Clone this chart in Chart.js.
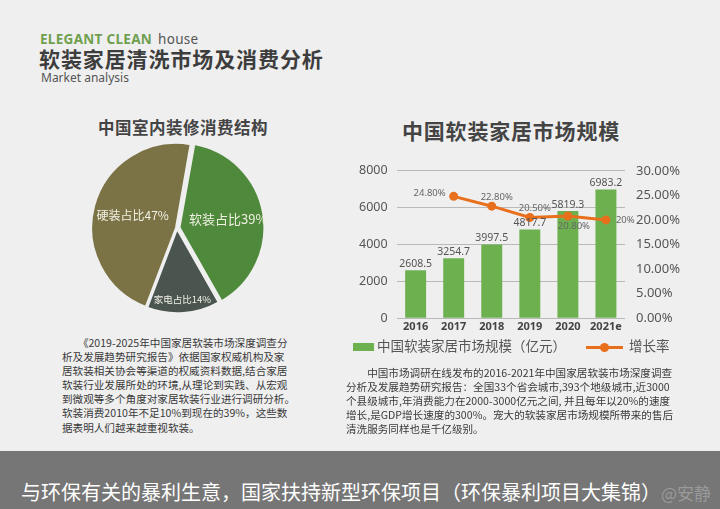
<!DOCTYPE html>
<html>
<head>
<meta charset="utf-8">
<script src="https://cdn.jsdelivr.net/npm/chart.js@4"></script>
<style>
  html, body { margin: 0; padding: 0; }
  body {
    width: 720px; height: 509px; overflow: hidden; position: relative;
    background: #efefef;
    font-family: "Noto Sans CJK SC", "Noto Sans", sans-serif;
    color: #3d3d3d;
  }
  .abs { position: absolute; white-space: nowrap; line-height: 1; }
  #brand { left: 40px; top: 33px; font: bold 13.5px "Noto Sans", sans-serif; color: #6f9f4f; letter-spacing: 0.3px; line-height: 1; }
  #brand span { color: #555; font-weight: normal; margin-left: 6px; }
  #title { left: 39px; top: 48px; font-size: 21px; font-weight: bold; color: #3d3d3d; letter-spacing: 0.9px; }
  #sub { left: 41px; top: 72px; font: 12px "Noto Sans", sans-serif; color: #555; line-height: 1; }
  #pieTitle { left: 98px; top: 119px; font-size: 16.5px; font-weight: bold; color: #444; letter-spacing: 0.5px; }
  #barTitle { left: 402px; top: 120px; font-size: 21px; font-weight: bold; color: #444; letter-spacing: 0.8px; }
  .para { font-size: 10.6px; line-height: 14.1px; color: #3a3a3a; }
  #paraL { left: 62px; top: 336px; }
  #paraR { left: 346px; top: 366px; }
  #legend { left: 353px; top: 339px; font-size: 13.5px; color: #555; }
  #legend i { display: inline-block; vertical-align: middle; }
  .lgBox { width: 21px; height: 8px; background: #6cb050; margin-right: 3px; }
  .lgLine { width: 37px; height: 3px; background: #e8701c; margin: 0 6px 0 20px; position: relative; }
  .lgLine b { position: absolute; left: 14px; top: -3px; width: 9px; height: 9px; border-radius: 50%; background: #e8701c; }
  #banner { left: 0; top: 451px; width: 720px; height: 58px; background: #767676; }
  #bannerText { left: 21px; top: 482px; font-size: 20px; color: #fff; }
  #mark { left: 661px; top: 484px; font-size: 17px; color: #9a9a9a; }
  canvas { position: absolute; }
</style>
</head>
<body>
<div id="brand" class="abs">ELEGANT CLEAN<span>house</span></div>
<div id="title" class="abs">软装家居清洗市场及消费分析</div>
<div id="sub" class="abs">Market analysis</div>
<div id="pieTitle" class="abs">中国室内装修消费结构</div>
<div id="barTitle" class="abs">中国软装家居市场规模</div>

<div style="position:absolute; left:87px; top:138px; width:180px; height:180px;"><canvas id="pieChart"></canvas></div>
<div style="position:absolute; left:340px; top:152px; width:360px; height:185px;"><canvas id="barChart"></canvas></div>

<div id="legend" class="abs"><i class="lgBox"></i>中国软装家居市场规模（亿元）<i class="lgLine"><b></b></i>增长率</div>

<div id="paraL" class="abs para">　　《2019-2025年中国家居软装市场深度调查分<br>析及发展趋势研究报告》依据国家权威机构及家<br>居软装相关协会等渠道的权威资料数据,结合家居<br>软装行业发展所处的环境,从理论到实践、从宏观<br>到微观等多个角度对家居软装行业进行调研分析。<br>软装消费2010年不足10%到现在的39%，这些数<br>据表明人们越来越重视软装。</div>

<div id="paraR" class="abs para">　　中国市场调研在线发布的2016-2021年中国家居软装市场深度调查<br>分析及发展趋势研究报告：全国33个省会城市,393个地级城市,近3000<br>个县级城市,年消费能力在2000-3000亿元之间, 并且每年以20%的速度<br>增长,是GDP增长速度的300%。宠大的软装家居市场规模所带来的售后<br>清洗服务同样也是千亿级别。</div>

<div id="banner" class="abs"></div>
<div id="bannerText" class="abs">与环保有关的暴利生意，国家扶持新型环保项目（环保暴利项目大集锦）</div>
<div id="mark" class="abs">@安静</div>

<script>
// pie: consumption structure
const pieCategories = ['软装', '家电', '硬装'];
const pieShares = [39, 14, 47];
const pieColors = ['#4f8a3c', '#4a5550', '#7b7245'];

// bar + line: market size
const years = ['2016', '2017', '2018', '2019', '2020', '2021e'];
const marketSize = [2608.5, 3254.7, 3997.5, 4817.7, 5819.3, 6983.2];
const growthRate = [null, 24.8, 22.8, 20.5, 20.8, 20];
const growthText = ['', '24.80%', '22.80%', '20.50%', '20.80%', '20%'];
const growthLabelPos = ['', 'left', 'above', 'above', 'below', 'right'];
const leftTicks = [0, 2000, 4000, 6000, 8000];
const rightTicks = ['0.00%', '5.00%', '10.00%', '15.00%', '20.00%', '25.00%', '30.00%'];

const pieLabelPlugin = {
    id: 'pieLabels',
    afterDatasetsDraw(chart) {
        const ctx = chart.ctx;
        const meta = chart.getDatasetMeta(0);
        const radial = [0.5, 0.8, 0.5];
        const sizes = [13, 9.5, 12];
        ctx.save();
        ctx.fillStyle = '#f1f0e4';
        ctx.textAlign = 'center';
        ctx.textBaseline = 'middle';
        meta.data.forEach((arc, i) => {
            const mid = (arc.startAngle + arc.endAngle) / 2;
            const r = arc.outerRadius * radial[i] + (arc.options.offset || 0);
            ctx.font = sizes[i] + 'px "Noto Sans CJK SC", sans-serif';
            ctx.fillText(pieCategories[i] + '占比' + pieShares[i] + '%',
                arc.x + Math.cos(mid) * r, arc.y + Math.sin(mid) * r);
        });
        ctx.restore();
    }
};

new Chart(document.getElementById('pieChart'), {
    type: 'pie',
    data: {
        labels: pieCategories,
        datasets: [{
            data: pieShares,
            backgroundColor: pieColors,
            borderColor: '#efefef',
            borderWidth: 2,
            offset: [10, 4, 4]
        }]
    },
    options: {
        responsive: true,
        maintainAspectRatio: false,
        animation: false,
        rotation: 10,
        plugins: { legend: { display: false }, tooltip: { enabled: false } }
    },
    plugins: [pieLabelPlugin]
});

const valueLabelPlugin = {
    id: 'valueLabels',
    afterDatasetsDraw(chart) {
        const ctx = chart.ctx;
        ctx.save();
        ctx.font = '10.5px "Noto Sans", sans-serif';
        ctx.fillStyle = '#555';
        ctx.textAlign = 'center';
        ctx.textBaseline = 'bottom';
        chart.getDatasetMeta(1).data.forEach((bar, i) => {
            ctx.fillText(marketSize[i].toFixed(1), bar.x, bar.y - 1);
        });
        ctx.font = '9.5px "Noto Sans", sans-serif';
        ctx.fillStyle = '#666';
        ctx.textBaseline = 'middle';
        chart.getDatasetMeta(0).data.forEach((pt, i) => {
            const pos = growthLabelPos[i];
            if (!pos) return;
            if (pos === 'left') {
                ctx.textAlign = 'right';
                ctx.fillText(growthText[i], pt.x - 8, pt.y - 3);
            } else if (pos === 'right') {
                ctx.textAlign = 'left';
                ctx.fillText(growthText[i], pt.x + 10, pt.y);
            } else if (pos === 'above') {
                ctx.textAlign = 'center';
                ctx.fillText(growthText[i], pt.x + 5, pt.y - 9);
            } else {
                ctx.textAlign = 'center';
                ctx.fillText(growthText[i], pt.x + 6, pt.y + 10);
            }
        });
        ctx.restore();
    }
};

new Chart(document.getElementById('barChart'), {
    type: 'bar',
    data: {
        labels: years,
        datasets: [{
            type: 'line',
            label: '增长率',
            data: growthRate,
            yAxisID: 'y1',
            borderColor: '#e8701c',
            backgroundColor: '#e8701c',
            borderWidth: 3,
            pointRadius: 4.5,
            pointBackgroundColor: '#e8701c',
            pointBorderWidth: 0,
            order: 0
        }, {
            label: '中国软装家居市场规模（亿元）',
            data: marketSize,
            yAxisID: 'y',
            backgroundColor: '#6cb050',
            barPercentage: 0.55,
            categoryPercentage: 1,
            order: 1
        }]
    },
    options: {
        responsive: true,
        maintainAspectRatio: false,
        animation: false,
        layout: { padding: { left: 10, right: 9, top: 0, bottom: 0 } },
        scales: {
            x: {
                grid: { display: false, drawTicks: false },
                border: { display: false },
                ticks: {
                    color: '#444',
                    padding: 2,
                    maxRotation: 0,
                    minRotation: 0,
                    autoSkip: false,
                    font: { family: 'Noto Sans', size: 11, weight: 'bold' }
                }
            },
            y: {
                min: 0,
                max: 8000,
                afterBuildTicks: axis => { axis.ticks = leftTicks.map(v => ({ value: v })); },
                grid: { color: '#b9b9b9', lineWidth: 1, drawTicks: false },
                border: { display: false },
                ticks: {
                    color: '#555',
                    padding: 9,
                    font: { family: 'Noto Sans', size: 12.5 },
                    callback: v => String(v)
                }
            },
            y1: {
                position: 'right',
                min: 0,
                max: 30,
                grid: { display: false, drawTicks: false },
                border: { display: false },
                ticks: {
                    stepSize: 5,
                    color: '#555',
                    padding: 11,
                    font: { family: 'Noto Sans', size: 13 },
                    callback: (v, i) => rightTicks[i]
                }
            }
        },
        plugins: { legend: { display: false }, tooltip: { enabled: false } }
    },
    plugins: [valueLabelPlugin]
});
</script>
</body>
</html>
